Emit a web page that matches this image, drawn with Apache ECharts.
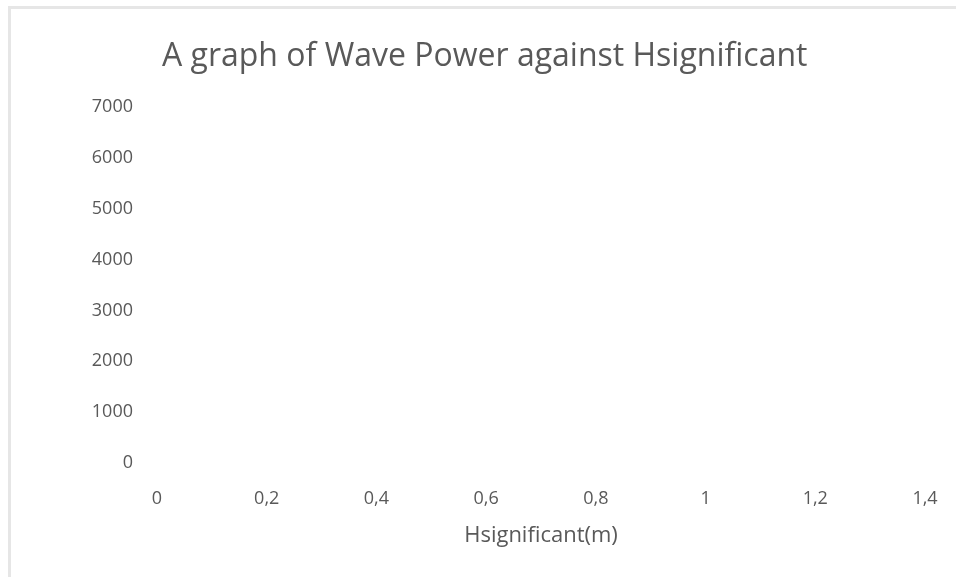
<!DOCTYPE html>
<html>
<head>
<meta charset="utf-8">
<script src="https://cdn.jsdelivr.net/npm/echarts@6/dist/echarts.min.js"></script>
<style>
  html, body { margin: 0; padding: 0; background: #ffffff; }
  #chart { position: absolute; left: 0; top: 0; width: 956px; height: 577px; }
  #frame { position: absolute; left: 8px; top: 6px; right: 0; bottom: 0;
           border-top: 3px solid #e6e6e6; border-left: 3px solid #e6e6e6;
           pointer-events: none; }
</style>
</head>
<body>
<div id="chart"></div>
<div id="frame"></div>
<script>
// Chart content (the reference chart contains no plotted data)
var titleText = 'A graph of Wave Power against Hsignificant';
var xAxisName = 'Hsignificant(m)';
var hSignificant = [];   // x values (m) - none shown in the reference
var wavePower = [];      // y values - none shown in the reference
var xTicks = [0, 0.2, 0.4, 0.6, 0.8, 1, 1.2, 1.4];
var yTicks = [0, 1000, 2000, 3000, 4000, 5000, 6000, 7000];

var points = hSignificant.map(function (h, i) { return [h, wavePower[i]]; });

var textColor = '#595959';
var fontFam = '"Open Sans", "Liberation Sans", sans-serif';

var chart = echarts.init(document.getElementById('chart'), null, { renderer: 'canvas' });
chart.setOption({
  animation: false,
  backgroundColor: 'transparent',
  title: {
    text: titleText,
    left: 157,
    top: 36,
    textStyle: { color: textColor, fontSize: 32, fontWeight: 'normal', fontFamily: fontFam }
  },
  grid: { left: 157, right: 31, top: 107, bottom: 114, containLabel: false },
  xAxis: {
    type: 'value',
    min: xTicks[0],
    max: xTicks[xTicks.length - 1],
    interval: 0.2,
    name: xAxisName,
    nameLocation: 'middle',
    nameGap: 62,
    nameTextStyle: { color: textColor, fontSize: 22, fontFamily: fontFam },
    axisLine: { show: false },
    axisTick: { show: false },
    splitLine: { show: false },
    axisLabel: {
      color: textColor, fontSize: 18, fontFamily: fontFam, margin: 27,
      formatter: function (v) { return String(+v.toFixed(1)).replace('.', ','); }
    }
  },
  yAxis: {
    type: 'value',
    min: yTicks[0],
    max: yTicks[yTicks.length - 1],
    interval: 1000,
    axisLine: { show: false },
    axisTick: { show: false },
    splitLine: { show: false },
    axisLabel: {
      color: textColor, fontSize: 18, fontFamily: fontFam, margin: 24,
      formatter: function (v) { return String(v); }
    }
  },
  series: [{
    type: 'scatter',
    data: points,
    itemStyle: { color: '#4472c4' }
  }]
});
</script>
</body>
</html>
